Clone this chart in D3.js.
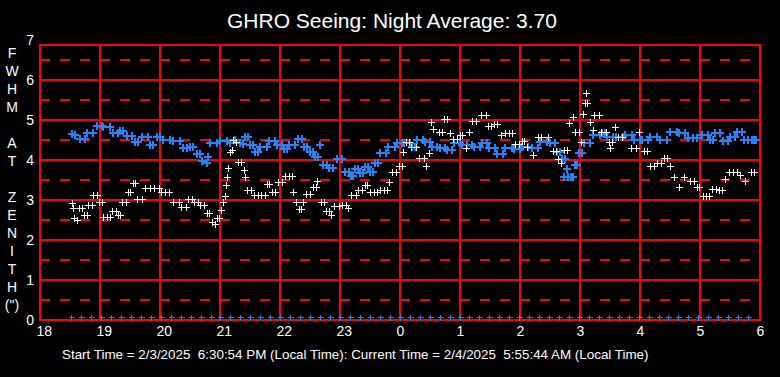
<!DOCTYPE html>
<html>
<head>
<meta charset="utf-8">
<script src="https://cdn.jsdelivr.net/npm/d3@7"></script>
<style>
  html, body { margin: 0; padding: 0; background: #000; }
  svg { display: block; font-family: "Liberation Sans", Arial, sans-serif; }
</style>
</head>
<body>
<div id="chart"></div>
<script>
// time in minutes after 18:00 local, value = FWHM (arcsec)
const hourLabels = [18, 19, 20, 21, 22, 23, 0, 1, 2, 3, 4, 5, 6];
const fwhmTicks = [0, 1, 2, 3, 4, 5, 6, 7];
const axisLetters = ["F", "W", "H", "M", "", "A", "T", "", "Z", "E", "N", "I", "T", "H", "(\")"];
const titleText = "GHRO Seeing: Night Average: 3.70";
const footerText = "Start Time = 2/3/2025  6:30:54 PM (Local Time): Current Time = 2/4/2025  5:55:44 AM (Local Time)";

const blueSeeing = [
  [32,4.65],[35,4.62],[40,4.52],[45,4.52],[47,4.67],[53,4.67],[57,4.85],[62,4.85],[63,4.82],[70,4.82],
  [73,4.67],[78,4.67],[80,4.72],[83,4.72],[87,4.6],[92,4.6],[95,4.45],[98,4.45],[102,4.57],[108,4.57],
  [110,4.37],[113,4.37],[117,4.57],[120,4.57],[123,4.5],[130,4.5],[133,4.47],[140,4.47],[143,4.3],[147,4.3],
  [150,4.32],[153,4.32],[157,4.15],[160,4.15],[162,3.97],[167,3.92],[168,4.07],[170,4.42],[177,4.42],
  [180,4.47],[187,4.47],[190,4.42],[195,4.5],[200,4.42],[203,4.4],[205,4.57],[208,4.57],[210,4.37],[213,4.37],
  [215,4.2],[218,4.2],[220,4.32],[227,4.32],[229,4.47],[235,4.47],[237,4.37],[242,4.37],[244,4.27],[247,4.27],
  [249,4.37],[255,4.37],[258,4.52],[262,4.52],[264,4.32],[267,4.32],[270,4.2],[273,4.2],[275,4.07],[278,4.07],
  [280,4.37],[283,3.87],[287,3.87],[289,3.8],[293,3.8],[297,4.02],[302,4.02],[305,3.7],[309,3.7],[311,3.6],
  [313,3.6],[315,3.77],[318,3.77],[320,3.67],[323,3.67],[325,3.82],[328,3.82],[330,3.7],[333,3.7],[335,3.92],
  [338,3.92],[340,4.17],[346,4.17],[348,4.32],[355,4.32],[357,4.42],[362,4.42],[364,4.42],[370,4.42],
  [372,4.32],[375,4.32],[377,4.5],[383,4.5],[385,4.45],[390,4.45],[392,4.32],[397,4.32],[400,4.3],[405,4.3],
  [407,4.25],[412,4.25],[414,4.42],[420,4.42],[422,4.37],[427,4.37],[432,4.37],[434,4.32],[440,4.32],
  [442,4.42],[447,4.42],[449,4.3],[455,4.3],[457,4.15],[463,4.15],[465,4.3],[472,4.3],[474,4.27],[480,4.27],
  [482,4.32],[488,4.32],[492,4.3],[498,4.3],[500,4.45],[507,4.45],[510,4.42],[515,4.42],[517,4.2],[520,4.2],
  [522,4.02],[524,3.57],[525,4.02],[527,3.77],[528,3.57],[531,3.57],[533,3.57],[535,3.87],[537,3.87],
  [539,4.17],[542,4.17],[544,4.42],[550,4.42],[553,4.62],[560,4.62],[562,4.67],[565,4.67],[567,4.57],[573,4.57],
  [576,4.57],[583,4.57],[585,4.62],[592,4.62],[594,4.5],[600,4.5],[602,4.5],[608,4.5],[610,4.57],[617,4.57],
  [620,4.5],[627,4.5],[630,4.7],[637,4.7],[639,4.67],[645,4.67],[648,4.55],[653,4.55],[657,4.55],[662,4.62],
  [668,4.62],[670,4.5],[673,4.5],[675,4.67],[680,4.67],[683,4.47],[688,4.47],[690,4.57],[695,4.57],[697,4.7],
  [702,4.7],[704,4.5],[708,4.5],[712,4.5],[714,4.5],[716,4.5]
];

const whiteSeeing = [
  [32,2.92],[33,2.8],[34,2.55],[37,2.5],[39,2.8],[42,2.8],[44,2.62],[47,2.62],[48,2.87],[52,2.87],
  [53,3.12],[57,3.12],[59,2.95],[62,2.95],[63,2.57],[67,2.57],[70,2.57],[72,2.72],[76,2.72],[78,2.62],
  [80,2.62],[82,2.95],[86,2.95],[88,3.2],[90,3.2],[93,3.42],[95,3.42],[97,3.02],[102,3.02],[105,3.3],
  [110,3.3],[114,3.3],[119,3.3],[121,3.2],[125,3.2],[129,3.2],[133,2.95],[139,2.95],[141,2.82],[146,2.82],
  [148,3.02],[152,3.02],[154,2.95],[158,2.95],[160,2.87],[164,2.87],[167,2.67],[169,2.67],[172,2.45],
  [175,2.4],[177,2.55],[179,2.55],[181,2.75],[183,2.95],[185,3.1],[186,3.37],[187,3.57],[188,3.8],
  [190,4.2],[192,4.25],[193,4.5],[196,4.45],[198,3.95],[201,3.95],[204,3.75],[205,3.57],[207,3.25],
  [211,3.25],[214,3.12],[218,3.12],[221,3.12],[225,3.12],[227,3.4],[229,3.4],[232,3.2],[235,3.2],
  [238,3.45],[242,3.45],[245,3.6],[249,3.6],[252,3.6],[253,3.2],[256,2.95],[259,2.77],[261,2.77],
  [263,2.95],[266,3.15],[270,3.15],[273,3.32],[276,3.32],[277,3.47],[281,2.95],[284,2.95],[286,2.72],
  [289,2.72],[291,2.62],[294,2.85],[299,2.85],[302,2.87],[306,2.87],[308,2.8],[311,3.12],[316,3.12],
  [318,3.25],[322,3.25],[325,3.37],[327,3.37],[330,3.2],[334,3.2],[337,3.2],[340,3.25],[344,3.25],
  [347,3.25],[349,3.45],[352,3.7],[356,3.7],[359,3.85],[362,3.85],[363,4.2],[366,4.45],[369,4.45],
  [371,4.32],[376,4.32],[379,4.05],[384,4.05],[386,3.85],[389,4.17],[391,4.95],[393,4.77],[399,4.7],
  [402,4.7],[404,5.02],[407,5.02],[410,4.67],[413,4.52],[417,4.52],[420,4.62],[422,4.62],[426,4.3],
  [429,4.7],[432,4.97],[436,4.97],[441,5.12],[446,5.12],[448,4.85],[451,4.85],[454,4.9],[457,4.9],
  [461,4.62],[465,4.67],[469,4.67],[472,4.67],[475,4.4],[479,4.4],[482,4.47],[484,4.47],[487,4.32],
  [493,4.12],[498,4.57],[501,4.57],[508,4.57],[513,4.22],[516,4.22],[518,4.02],[521,3.92],[524,4.25],
  [527,4.25],[529,4.92],[533,5.07],[535,4.7],[539,4.7],[541,4.45],[543,5.15],[545,5.42],[546,5.67],
  [547,5.42],[550,4.95],[553,4.75],[554,5.12],[559,5.12],[561,4.7],[566,4.7],[569,4.45],[570,4.3],
  [572,4.45],[575,4.82],[578,4.57],[582,4.57],[591,4.3],[596,4.3],[599,4.7],[604,4.22],[607,4.22],
  [610,3.85],[614,3.85],[617,3.92],[621,3.92],[624,4.05],[627,4.05],[630,3.85],[634,3.57],[639,3.32],
  [644,3.57],[650,3.47],[654,3.47],[657,3.32],[659,3.32],[663,3.1],[666,3.1],[669,3.1],[672,3.27],
  [676,3.27],[679,3.25],[682,3.25],[685,3.52],[689,3.7],[693,3.7],[697,3.7],[700,3.62],[705,3.47],
  [711,3.7],[714,3.7]
];

// blue markers sitting on the zero line
const zeroTimes = [
  31,41,51,61,71,81,91,101,111,121,131,141,151,161,171,
  180,190,200,210,220,230,240,250,260,270,280,290,300,310,320,330,340,350,360,370,380,390,400,410,420,
  429,439,449,459,469,479,489,499,509,519,529,539,549,559,569,579,589,599,609,619,
  628,638,648,658,668,678,688,698,708
];

const W = 780, H = 377;
const RED = "#ff0000", BLUE = "#1e86ff";
const FONT = "Liberation Sans, Arial, sans-serif";

const svg = d3.select("#chart").append("svg")
  .attr("width", W)
  .attr("height", H);

svg.append("rect").attr("width", W).attr("height", H).attr("fill", "#000");

const x = d3.scaleLinear().domain([0, 720]).range([40, 760]);
const y = d3.scaleLinear().domain([0, 7]).range([320, 40]);
const frameTop = 45;

const grid = svg.append("g").attr("shape-rendering", "crispEdges");

// dashed half-unit lines
grid.selectAll(".half")
  .data(fwhmTicks.slice(0, -1).map(d => d + 0.5))
  .join("line")
  .attr("x1", x(0)).attr("x2", x(720))
  .attr("y1", d => y(d)).attr("y2", d => y(d))
  .attr("stroke", RED).attr("stroke-width", 2)
  .attr("stroke-dasharray", "10,10");

// solid unit lines
grid.selectAll(".whole")
  .data(fwhmTicks.slice(1, -1))
  .join("line")
  .attr("x1", x(0)).attr("x2", x(720))
  .attr("y1", d => y(d)).attr("y2", d => y(d))
  .attr("stroke", RED).attr("stroke-width", 2);

// hourly verticals
grid.selectAll(".hour")
  .data(hourLabels.map((h, i) => i * 60))
  .join("line")
  .attr("x1", d => x(d)).attr("x2", d => x(d))
  .attr("y1", frameTop).attr("y2", y(0))
  .attr("stroke", RED).attr("stroke-width", 2);

grid.append("rect")
  .attr("x", x(0)).attr("y", frameTop)
  .attr("width", x(720) - x(0)).attr("height", y(0) - frameTop)
  .attr("fill", "none").attr("stroke", RED).attr("stroke-width", 2);

// plus markers
const plus = (px, py, r) => `M${px - r},${py}H${px + r}M${px},${py - r}V${py + r}`;

const marks = svg.append("g").attr("shape-rendering", "crispEdges");

marks.append("path")
  .attr("d", blueSeeing.map(d => plus(Math.round(x(d[0])), Math.round(y(d[1])), 4)).join(""))
  .attr("stroke", BLUE).attr("stroke-width", 2).attr("fill", "none");

marks.append("path")
  .attr("d", zeroTimes.map(t => plus(Math.round(x(t)) + 0.5, Math.round(y(0)) - 2.5, 3)).join(""))
  .attr("stroke", BLUE).attr("stroke-width", 1.6).attr("fill", "none");

marks.append("path")
  .attr("d", whiteSeeing.map(d => plus(Math.round(x(d[0])) + 0.5, Math.round(y(d[1])) + 0.5, 3.5)).join(""))
  .attr("stroke", "#fff").attr("stroke-width", 1.6).attr("fill", "none");

// y axis labels
const yAxis = d3.axisLeft(y).tickValues(fwhmTicks).tickFormat(d3.format("d")).tickSize(0).tickPadding(6);
const yG = svg.append("g").attr("transform", `translate(${x(0)},0)`).call(yAxis);
yG.select(".domain").remove();
yG.selectAll("text").attr("fill", "#fff").attr("font-size", 14).attr("font-family", FONT);

// x axis labels
const xAxis = d3.axisBottom(x)
  .tickValues(hourLabels.map((h, i) => i * 60))
  .tickFormat((d, i) => hourLabels[i])
  .tickSize(0).tickPadding(6);
const xG = svg.append("g").attr("transform", `translate(0,${y(0)})`).call(xAxis);
xG.select(".domain").remove();
xG.selectAll("text").attr("fill", "#fff").attr("font-size", 14)
  .attr("text-anchor", "start").attr("dx", -4)
  .attr("font-family", FONT);

// stacked vertical axis title
svg.append("g").selectAll("text")
  .data(axisLetters)
  .join("text")
  .attr("x", 12)
  .attr("y", (d, i) => 58 + i * 18)
  .attr("text-anchor", "middle")
  .attr("fill", "#fff").attr("font-size", 14)
  .text(d => d);

svg.append("text")
  .attr("x", 392).attr("y", 28)
  .attr("text-anchor", "middle")
  .attr("fill", "#fff").attr("font-size", 21)
  .text(titleText);

svg.append("text")
  .attr("x", 62).attr("y", 359)
  .attr("fill", "#fff").attr("font-size", 13.4)
  .style("white-space", "pre")
  .text(footerText);
</script>
</body>
</html>
